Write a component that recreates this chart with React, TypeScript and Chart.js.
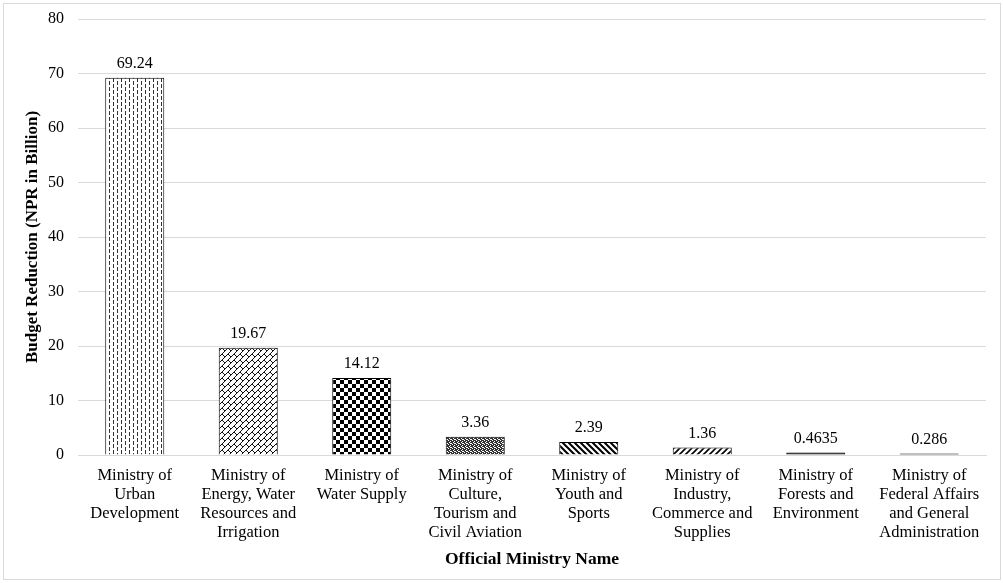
import React, { useEffect, useRef } from "react";
import { Chart, registerables } from "chart.js";

Chart.register(...registerables);

const categories: string[][] = [
  ["Ministry of", "Urban", "Development"],
  ["Ministry of", "Energy, Water", "Resources and", "Irrigation"],
  ["Ministry of", "Water Supply"],
  ["Ministry of", "Culture,", "Tourism and", "Civil Aviation"],
  ["Ministry of", "Youth and", "Sports"],
  ["Ministry of", "Industry,", "Commerce and", "Supplies"],
  ["Ministry of", "Forests and", "Environment"],
  ["Ministry of", "Federal Affairs", "and General", "Administration"],
];
const budgetReduction: number[] = [69.24, 19.67, 14.12, 3.36, 2.39, 1.36, 0.4635, 0.286];
const yTitle = "Budget Reduction (NPR in Billion)";
const xTitle = "Official Ministry Name";

const FONT = "'Liberation Serif', 'Times New Roman', serif";

function makeTile(w: number, h: number, draw: (c: CanvasRenderingContext2D) => void): HTMLCanvasElement {
  const cv = document.createElement("canvas");
  cv.width = w;
  cv.height = h;
  const c = cv.getContext("2d")!;
  c.fillStyle = "#fff";
  c.fillRect(0, 0, w, h);
  draw(c);
  return cv;
}

function buildPatterns(ctx: CanvasRenderingContext2D): CanvasPattern[] {
  const tiles: HTMLCanvasElement[] = [];
  // 1 vertical dashes
  tiles.push(
    makeTile(8, 6, (c) => {
      c.fillStyle = "#333";
      c.fillRect(1, 0, 1, 4);
      c.fillRect(5, 3, 1, 3);
      c.fillRect(5, 0, 1, 1);
    })
  );
  // 2 diagonal brick
  tiles.push(
    makeTile(12, 12, (c) => {
      c.strokeStyle = "#111";
      c.lineWidth = 1;
      c.beginPath();
      for (let u = -24; u <= 48; u += 6) {
        c.moveTo(-2, u + 2);
        c.lineTo(u + 2, -2);
      }
      for (let k = -6; k <= 8; k++) {
        for (let m = -4; m <= 4; m++) {
          const v = 12 * m + (Math.abs(k) % 2) * 6;
          const u0 = 6 * k;
          const u1 = u0 + 6;
          c.moveTo((u0 + v) / 2, (u0 - v) / 2);
          c.lineTo((u1 + v) / 2, (u1 - v) / 2);
        }
      }
      c.stroke();
    })
  );
  // 3 checkerboard
  tiles.push(
    makeTile(8, 8, (c) => {
      c.fillStyle = "#000";
      c.fillRect(0, 0, 4, 4);
      c.fillRect(4, 4, 4, 4);
    })
  );
  // 4 small confetti
  tiles.push(
    makeTile(4, 4, (c) => {
      c.fillStyle = "#333";
      c.fillRect(0, 0, 4, 4);
      c.fillStyle = "#fff";
      c.fillRect(0, 0, 1, 1);
      c.fillRect(2, 1, 1, 1);
      c.fillRect(1, 2, 1, 1);
      c.fillRect(3, 3, 1, 1);
      c.fillRect(2, 3, 1, 1);
    })
  );
  // 5 wide downward diagonal
  tiles.push(
    makeTile(6, 6, (c) => {
      c.strokeStyle = "#000";
      c.lineWidth = 2;
      c.beginPath();
      for (let o = -12; o <= 12; o += 6) {
        c.moveTo(o - 2, -2);
        c.lineTo(o + 8, 8);
      }
      c.stroke();
    })
  );
  // 6 dashed upward diagonal
  tiles.push(
    makeTile(6, 6, (c) => {
      c.strokeStyle = "#000";
      c.lineWidth = 1.6;
      c.beginPath();
      for (let o = -6; o <= 18; o += 6) {
        c.moveTo(o - 8, 8);
        c.lineTo(o + 2, -2);
      }
      c.stroke();
    })
  );
  // 7, 8 dark fill
  tiles.push(makeTile(4, 4, (c) => { c.fillStyle = "#000"; c.fillRect(0, 0, 4, 4); }));
  tiles.push(makeTile(4, 4, (c) => { c.fillStyle = "#000"; c.fillRect(0, 0, 4, 4); }));
  return tiles.map((t) => ctx.createPattern(t, "repeat")!);
}

const frame = {
  id: "frame",
  beforeDraw(chart: any) {
    const c = chart.ctx;
    c.save();
    c.fillStyle = "#fff";
    c.fillRect(0, 0, chart.width, chart.height);
    c.strokeStyle = "#d9d9d9";
    c.lineWidth = 1;
    c.strokeRect(3.5, 3.5, 997, 576);
    c.restore();
  },
};

const valueLabels = {
  id: "valueLabels",
  afterDatasetsDraw(chart: any) {
    const c = chart.ctx;
    const meta = chart.getDatasetMeta(0);
    c.save();
    c.font = `16px ${FONT}`;
    c.fillStyle = "#000";
    c.textAlign = "center";
    c.textBaseline = "bottom";
    meta.data.forEach((bar: any, i: number) => {
      c.fillText(String(budgetReduction[i]), bar.x, bar.y - 6);
    });
    c.restore();
  },
};

export default function App() {
  const ref = useRef<HTMLCanvasElement>(null);
  useEffect(() => {
    const canvas = ref.current!;
    const ctx = canvas.getContext("2d")!;
    const patterns = buildPatterns(ctx);
    const chart = new Chart(canvas, {
      type: "bar",
      data: {
        labels: categories,
        datasets: [
          {
            data: budgetReduction,
            backgroundColor: patterns,
            borderColor: "#000",
            borderWidth: 1,
            barPercentage: 0.52,
            categoryPercentage: 1,
          },
        ],
      },
      plugins: [frame, valueLabels],
      options: {
        animation: false,
        responsive: false,
        devicePixelRatio: 1,
        layout: { padding: { top: 19, right: 17, left: 0, bottom: 0 } },
        plugins: { legend: { display: false }, tooltip: { enabled: false } },
        scales: {
          x: {
            grid: { display: false, drawTicks: false },
            border: { display: true, color: "#d9d9d9", width: 1 },
            ticks: { color: "#000", font: { family: FONT, size: 16.5, lineHeight: 1.16 }, padding: 11, maxRotation: 0, autoSkip: false },
            title: { display: true, text: xTitle, color: "#000", font: { family: FONT, size: 17.5, weight: "bold" }, padding: { top: 0, bottom: 13 } },
            afterFit: (s: any) => { s.height = 128; },
          },
          y: {
            min: 0,
            max: 80,
            grid: { color: "#d9d9d9", drawTicks: false },
            border: { display: false },
            ticks: { stepSize: 10, color: "#000", font: { family: FONT, size: 16 }, padding: 14 },
            title: { display: true, text: yTitle, color: "#000", font: { family: FONT, size: 17, weight: "bold" }, padding: { top: 22, bottom: 0 } },
            afterFit: (s: any) => { s.width = 78; s.paddingTop = 0; s.paddingBottom = 0; },
          },
        },
      } as any,
    });
    return () => chart.destroy();
  }, []);
  return (
    <div style={{ position: "absolute", left: 0, top: 0, width: 1003, height: 583 }}>
      <canvas ref={ref} width={1003} height={583} style={{ width: 1003, height: 583 }} />
    </div>
  );
}
